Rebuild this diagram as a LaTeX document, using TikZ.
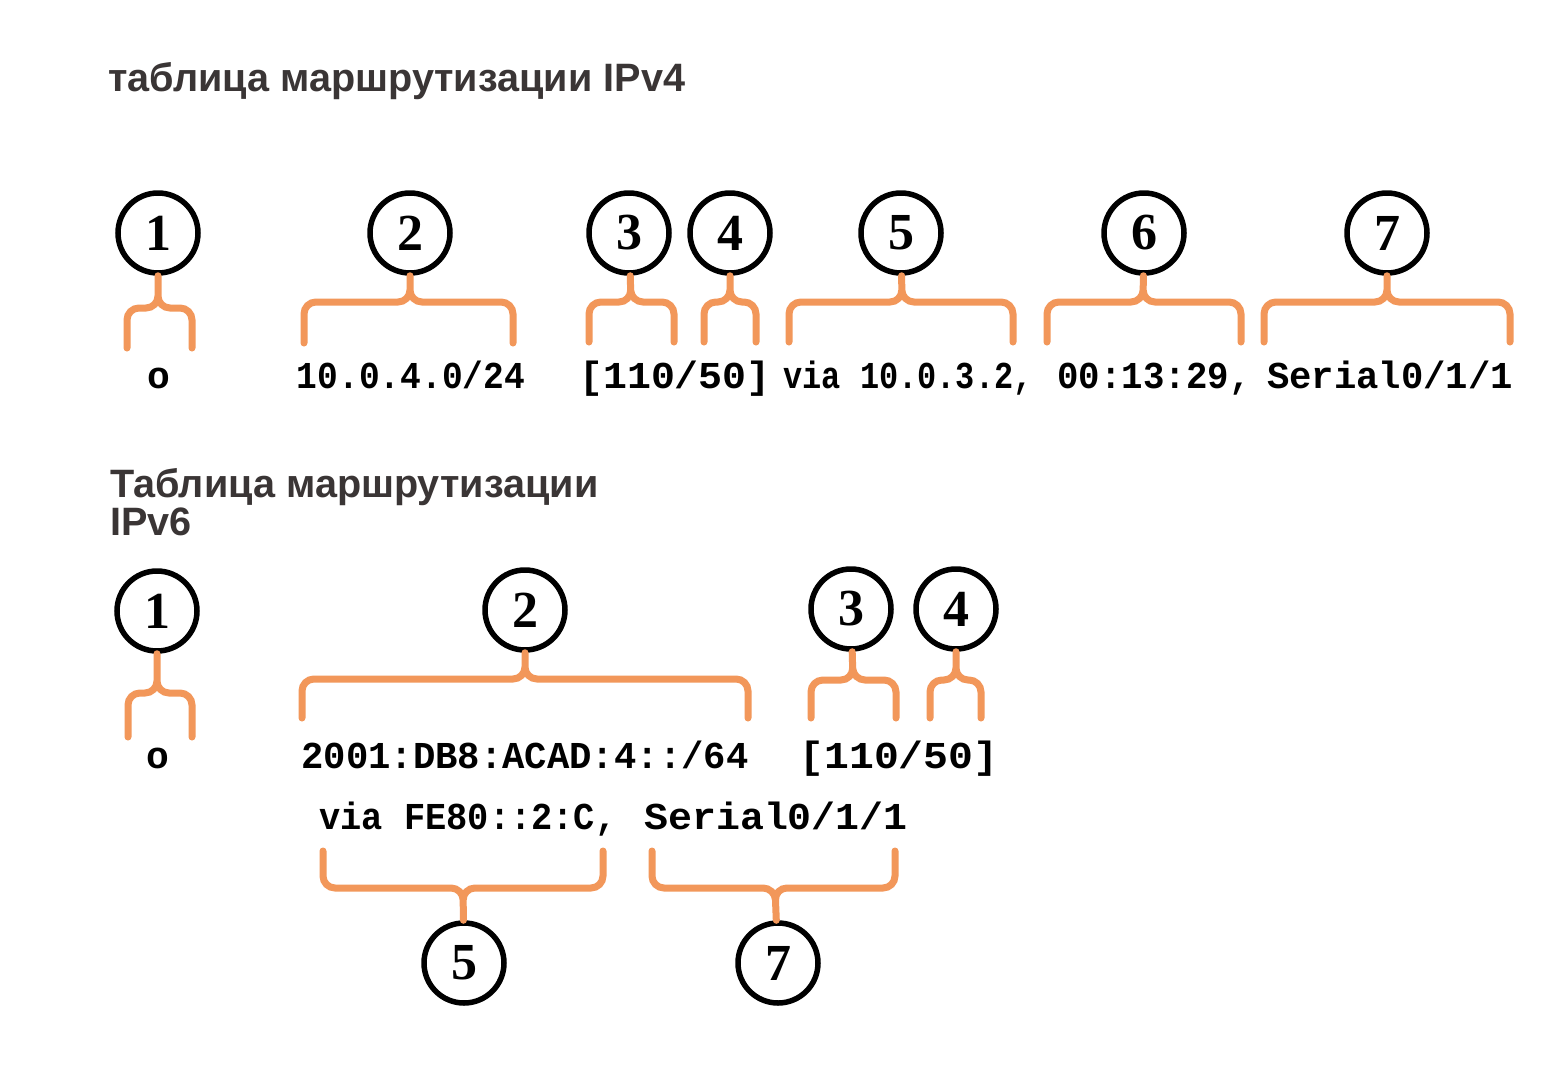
\documentclass[tikz,border=0pt]{standalone}
\usepackage{fontspec}
\usepackage{graphicx}
\setmainfont{Liberation Serif}
\newfontfamily\titlefont{Liberation Sans}
\newfontfamily\codefont{Liberation Mono}
\definecolor{bracecol}{RGB}{242,151,90}
\definecolor{titlecol}{RGB}{58,53,53}
\newcommand\squeeze[2]{\scalebox{#1}[1]{#2}}
\tikzset{
  num/.style={circle,draw,line width=5.5pt,minimum size=80pt,inner sep=0pt,font=\bfseries\fontsize{52}{52}\selectfont},
  brace/.style={draw=bracecol,line width=7pt,line cap=round,rounded corners=12pt},
  code/.style={anchor=base,inner sep=0pt,font=\codefont\bfseries\fontsize{38}{40}\selectfont},
  heading/.style={anchor=base west,inner sep=0pt,text=titlecol,font=\titlefont\bfseries\fontsize{39.6}{39.6}\selectfont}
}
\begin{document}
\begin{tikzpicture}[x=1pt,y=-1pt]
                \useasboundingbox[fill=white] (0,0) rectangle (1548,1080);
                %% headings
                \node[heading] (h1) at (108,91) {таблица маршрутизации IPv4};
                \node[heading] (h2) at (110,497) {Таблица маршрутизации};
                \node[heading] (h3) at ([yshift=-38pt]h2.base west) {IPv6};
                %% IPv4 route
                \node[code] (t1) at (159,388) {o};
                \node[code] (t2) at (411,388) {\squeeze{0.91}{10.0.4.0/24}};
                \node[code] (t3) at (675,388) {\squeeze{1.05}{[110/50]}};
                \node[code] (t4) at (908,388) {\squeeze{0.84}{via 10.0.3.2,}};
                \node[code] (t5) at (1154,388) {\squeeze{0.94}{00:13:29,}};
                \node[code] (t6) at (1390,388) {\squeeze{0.98}{Serial0/1/1}};
                %% IPv4 numbers
                \node[num] (a1) at (158,233) {1};
                \node[num] (a2) at (410,233) {2};
                \node[num] (a3) at (629,233) {3};
                \node[num] (a4) at (730,233) {4};
                \node[num] (a5) at (901,233) {5};
                \node[num] (a6) at (1144,233) {6};
                \node[num] (a7) at (1387,233) {7};
                %% IPv4 braces
                \coordinate (a1l) at (127,348); \coordinate (a1r) at (192,348); \coordinate (a1m) at (158,308);
                \coordinate (a2l) at (304,343); \coordinate (a2r) at (513,343); \coordinate (a2m) at (410,302);
                \coordinate (a3l) at (589,342); \coordinate (a3r) at (674,342); \coordinate (a3m) at (631,302);
                \coordinate (a4l) at (704,342); \coordinate (a4r) at (756,342); \coordinate (a4m) at (730,302);
                \coordinate (a5l) at (789,342); \coordinate (a5r) at (1013,342); \coordinate (a5m) at (902,302);
                \coordinate (a6l) at (1047,342); \coordinate (a6r) at (1241,342); \coordinate (a6m) at (1143,302);
                \coordinate (a7l) at (1264,342); \coordinate (a7r) at (1510,342); \coordinate (a7m) at (1387,302);
                \draw[brace] (a1l) |- (a1m) -- (a1) (a1r) |- (a1m) -- (a1);
                \draw[brace] (a2l) |- (a2m) -- (a2) (a2r) |- (a2m) -- (a2);
                \draw[brace] (a3l) |- (a3m) -- (a3) (a3r) |- (a3m) -- (a3);
                \draw[brace] (a4l) |- (a4m) -- (a4) (a4r) |- (a4m) -- (a4);
                \draw[brace] (a5l) |- (a5m) -- (a5) (a5r) |- (a5m) -- (a5);
                \draw[brace] (a6l) |- (a6m) -- (a6) (a6r) |- (a6m) -- (a6);
                \draw[brace] (a7l) |- (a7m) -- (a7) (a7r) |- (a7m) -- (a7);
                %% IPv6 route
                \node[code] (u1) at (158,768) {o};
                \node[code] (u2) at (525,768) {\squeeze{0.98}{2001:DB8:ACAD:4::/64}};
                \node[code] (u3) at (899,768) {\squeeze{1.09}{[110/50]}};
                \node[code] (u4) at (468,829) {\squeeze{0.93}{via FE80::2:C,}};
                \node[code] (u5) at (776,829) {\squeeze{1.05}{Serial0/1/1}};
                %% IPv6 numbers
                \node[num] (b1) at (157,611) {1};
                \node[num] (b2) at (525,610) {2};
                \node[num] (b3) at (851,609) {3};
                \node[num] (b4) at (956,609) {4};
                \node[num] (b5) at (464,963) {5};
                \node[num] (b7) at (778,963) {7};
                %% IPv6 braces
                \coordinate (b1l) at (128,737); \coordinate (b1r) at (192,737); \coordinate (b1m) at (157,693);
                \coordinate (b2l) at (302,718); \coordinate (b2r) at (748,718); \coordinate (b2m) at (525,679);
                \coordinate (b3l) at (811,718); \coordinate (b3r) at (896,718); \coordinate (b3m) at (853,680);
                \coordinate (b4l) at (930,718); \coordinate (b4r) at (981,718); \coordinate (b4m) at (956,680);
                \coordinate (b5l) at (323,851); \coordinate (b5r) at (603,851); \coordinate (b5m) at (463,888);
                \coordinate (b7l) at (652,851); \coordinate (b7r) at (895,851); \coordinate (b7m) at (775,888);
                \draw[brace] (b1l) |- (b1m) -- (b1) (b1r) |- (b1m) -- (b1);
                \draw[brace] (b2l) |- (b2m) -- (b2) (b2r) |- (b2m) -- (b2);
                \draw[brace] (b3l) |- (b3m) -- (b3) (b3r) |- (b3m) -- (b3);
                \draw[brace] (b4l) |- (b4m) -- (b4) (b4r) |- (b4m) -- (b4);
                \draw[brace] (b5l) |- (b5m) -- (b5) (b5r) |- (b5m) -- (b5);
                \draw[brace] (b7l) |- (b7m) -- (b7) (b7r) |- (b7m) -- (b7);
\end{tikzpicture}
\end{document}
